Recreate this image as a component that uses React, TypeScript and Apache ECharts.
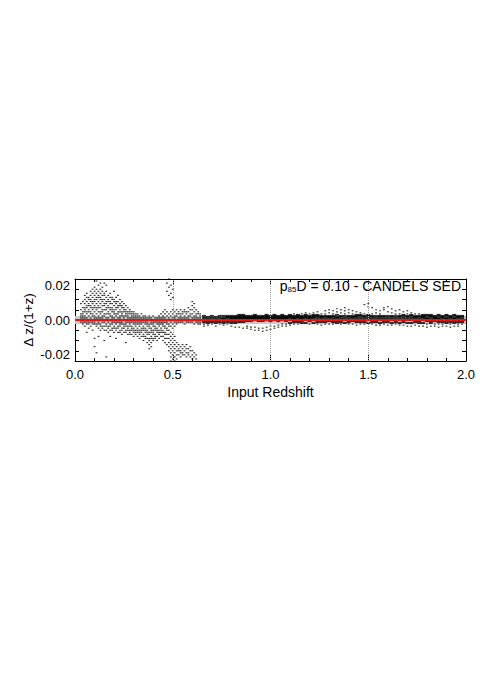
import React, { useEffect, useRef } from "react";
import * as echarts from "echarts";

// Axis settings
const X_MIN = 0;
const X_MAX = 2;
const X_STEP = 0.5;
const Y_MIN = -0.02;
const Y_MAX = 0.02;
const yLabelValues = [-0.02, 0, 0.02];
const yTickValues = [-0.02, -0.015, -0.01, -0.005, 0, 0.005, 0.01, 0.015, 0.02];
const referenceLines = [0.5, 1.0, 1.5];
const bandHalfWidth = 0.0019;
const annotation = "p{s|85}D = 0.10 - CANDELS SED";

// Scatter columns: [input redshift, Δz/(1+z) values in units of 1e-3]
const lowZColumns: [number, number[]][] = [
  [0.03, [5, 3, 2, 1, 0, -1, 8]],
  [0.04, [9, 6, 4, 3, 2, 1, 0, -1, -2]],
  [0.05, [12, 10, 8, 6, 5, 4, 2, 1, 0, -1, -3]],
  [0.06, [13, 11, 9, 7, 6, 4, 3, 1, 0, -1, -2, -6]],
  [0.07, [11, 10, 8, 7, 5, 4, 2, 0, -1, -2, -4]],
  [0.08, [14, 12, 10, 9, 7, 6, 4, 3, 1, 0, -1, -3]],
  [0.09, [15, 13, 11, 9, 8, 6, 5, 3, 2, 0, -1, -2, -5]],
  [0.10, [16, 14, 12, 10, 9, 7, 6, 4, 2, 1, -1, -2, -9, -13]],
  [0.11, [19, 15, 13, 11, 10, 8, 6, 5, 3, 1, 0, -2, -3, -16]],
  [0.12, [17, 14, 12, 11, 9, 7, 6, 4, 2, 1, -1, -2, -4, -8]],
  [0.13, [18, 15, 13, 11, 10, 8, 6, 4, 3, 1, 0, -2, -3, -5]],
  [0.14, [16, 14, 12, 10, 9, 7, 5, 4, 2, 1, -1, -3, -4]],
  [0.15, [18, 13, 12, 10, 8, 7, 5, 3, 2, 0, -1, -3, -5, -10]],
  [0.16, [17, 14, 11, 9, 8, 6, 5, 3, 1, 0, -2, -3, -5, -18]],
  [0.17, [12, 10, 9, 7, 6, 4, 3, 1, 0, -1, -3, -4, -6]],
  [0.18, [13, 11, 9, 8, 6, 5, 3, 2, 0, -2, -3, -5, -8]],
  [0.19, [11, 10, 8, 6, 5, 4, 2, 1, -1, -2, -4, -5]],
  [0.20, [14, 10, 9, 7, 5, 4, 3, 1, 0, -1, -3, -4, -6]],
  [0.21, [11, 9, 8, 6, 5, 3, 2, 0, -1, -2, -4, -5, -9]],
  [0.22, [12, 9, 7, 6, 4, 3, 1, 0, -1, -3, -4, -6]],
  [0.23, [10, 8, 7, 5, 4, 2, 1, -1, -2, -3, -5, -6]],
  [0.24, [9, 7, 6, 4, 3, 2, 0, -1, -2, -4, -5, -7]],
  [0.25, [8, 6, 5, 4, 2, 1, 0, -2, -3, -4, -6]],
  [0.26, [7, 5, 4, 3, 2, 0, -1, -2, -3, -5, -6, -11]],
  [0.27, [6, 4, 3, 2, 1, 0, -1, -3, -4, -5, -7]],
  [0.28, [5, 4, 3, 1, 0, -1, -2, -3, -5, -6, -7]],
  [0.29, [4, 3, 2, 1, 0, -1, -3, -4, -5, -7]],
  [0.30, [4, 3, 2, 1, 0, -1, -2, -4, -5, -6, -8]],
  [0.31, [3, 2, 1, 0, -1, -2, -3, -5, -6, -7]],
  [0.32, [3, 2, 1, 0, -1, -2, -4, -5, -6, -8]],
  [0.33, [2, 1, 0, -1, -2, -3, -5, -6, -7, -9]],
  [0.34, [3, 1, 0, -1, -2, -4, -5, -6, -8]],
  [0.35, [2, 1, 0, -1, -3, -4, -5, -7, -8, -10]],
  [0.36, [2, 1, 0, -1, -2, -4, -5, -6, -8, -9]],
  [0.37, [1, 0, -1, -2, -3, -5, -6, -7, -9, -11]],
  [0.38, [2, 1, 0, -2, -3, -4, -6, -7, -9, -10, -12, -14]],
  [0.39, [1, 0, -1, -2, -4, -5, -6, -8, -9, -11, -13]],
  [0.40, [2, 0, -1, -2, -3, -5, -6, -7, -9, -10]],
  [0.41, [1, 0, -1, -3, -4, -5, -7, -8, -9]],
  [0.42, [1, 0, -1, -2, -4, -5, -6, -8, -10]],
  [0.43, [2, 1, 0, -1, -2, -3, -5, -6, -7, -9]],
  [0.44, [3, 1, 0, -1, -2, -4, -5, -6, -8]],
  [0.45, [4, 2, 1, 0, -1, -2, -3, -5, -6, -8, -10]],
  [0.46, [5, 3, 1, 0, -1, -3, -4, -6, -7, -9, -11]],
  [0.47, [18, 14, 4, 2, 0, -1, -2, -4, -5, -7, -9, -12]],
  [0.48, [20, 16, 12, 3, 1, 0, -2, -3, -5, -7, -9, -11, -13, -15]],
  [0.49, [17, 13, 10, 4, 2, 0, -1, -3, -6, -8, -10, -12, -14, -16, -18, -20]],
  [0.50, [15, 11, 5, 3, 1, 0, -2, -4, -7, -9, -11, -13, -15, -17, -19, -21]],
  [0.51, [4, 2, 1, 0, -1, -3, -8, -10, -12, -14, -16, -18, -20]],
  [0.52, [5, 3, 2, 0, -1, -2, -11, -13, -15, -17, -19]],
  [0.53, [4, 3, 1, 0, -1, -12, -14, -15, -17]],
  [0.54, [5, 3, 2, 1, 0, -1, -13, -15, -16, -18]],
  [0.55, [4, 3, 1, 0, -1, -12, -14, -16, -17]],
  [0.56, [5, 4, 2, 1, 0, -2, -13, -15, -17]],
  [0.57, [4, 3, 1, 0, -1, -12, -14, -16, -18]],
  [0.58, [6, 4, 2, 1, 0, -1, -14, -16, -17]],
  [0.59, [5, 3, 2, 0, -1, -13, -15, -18]],
  [0.60, [9, 7, 5, 3, 1, 0, -1, -15, -17, -19]],
  [0.61, [8, 6, 4, 2, 1, 0, -2, -16, -18]],
  [0.62, [5, 3, 2, 1, 0, -1, -17, -19]],
  [0.63, [4, 3, 1, 0, -1, -2]],
  [0.64, [3, 2, 1, 0, -1, -2]],
];

const highZColumns: [number, number[]][] = [
  [0.66, [2, 1, 0, -1, -2, -3]],
  [0.68, [1.5, 0.5, -0.5, -1.5, -2.5]],
  [0.70, [2, 1, 0, -1, -2]],
  [0.72, [1.5, 0.5, -0.5, -1.5, -3]],
  [0.74, [2, 1, 0, -1, -2]],
  [0.76, [2, 1, 0.5, -0.5, -1.5, -2.5]],
  [0.78, [2, 1.5, 1, 0, -1, -2]],
  [0.80, [2, 1.5, 1, 0.5, -0.5, -1.5, -3]],
  [0.82, [2, 1.5, 1, 0.5, -0.5, -1.5, -3.5]],
  [0.84, [2.5, 2, 1.5, 1, 0.5, -1, -3.5]],
  [0.86, [2.5, 2, 1.5, 1, 0.5, -1, -4]],
  [0.88, [2, 1.5, 1, 0.5, -0.5, -3, -4]],
  [0.90, [2, 1.5, 1, 0.5, -0.5, -3.5, -4.5]],
  [0.92, [2.5, 2, 1.5, 1, 0.5, -3.5, -5]],
  [0.94, [2, 1.5, 1, 0.5, -0.5, -4, -5]],
  [0.96, [2, 1.5, 1, 0.5, -0.5, -4, -5.5]],
  [0.98, [2.5, 2, 1.5, 1, 0.5, -3.5, -5]],
  [1.00, [2, 1.5, 1, 0.5, -0.5, -3, -4.5]],
  [1.02, [2.5, 2, 1.5, 1, 0.5, -3, -4]],
  [1.04, [2, 1.5, 1, 0.5, -0.5, -2.5, -3.5]],
  [1.06, [2.5, 2, 1.5, 1, 0.5, -2, -3]],
  [1.08, [2, 1.5, 1, 0.5, -0.5, -2, -3]],
  [1.10, [2.5, 2, 1.5, 1, 0, -1.5, -2.5]],
  [1.12, [3, 2, 1.5, 1, 0.5, -1, -2]],
  [1.14, [2.5, 2, 1.5, 1, 0, -1, -2]],
  [1.16, [3, 2, 1.5, 1, 0.5, -0.5, -1.5]],
  [1.18, [3.5, 2.5, 2, 1.5, 1, 0, -1.5]],
  [1.20, [3, 2, 1.5, 1, 0.5, -0.5, -2]],
  [1.22, [3.5, 2.5, 2, 1.5, 1, 0, -1.5]],
  [1.24, [4, 2.5, 2, 1.5, 0.5, -1, -2]],
  [1.26, [3, 2, 1.5, 1, 0, -1, -2.5]],
  [1.28, [4.5, 3, 2, 1.5, 0.5, -1, -2]],
  [1.30, [5, 3.5, 2, 1.5, 1, -0.5, -2]],
  [1.32, [4.5, 3, 2, 1.5, 0.5, -1, -2]],
  [1.34, [5.5, 4, 2.5, 1.5, 1, -0.5, -1.5]],
  [1.36, [5, 3.5, 2, 1.5, 0.5, -1, -2]],
  [1.38, [6, 4.5, 3, 2, 1, 0, -1.5]],
  [1.40, [5, 3.5, 2, 1.5, 0.5, -1, -2]],
  [1.42, [4.5, 3, 2, 1.5, 1, -0.5, -2]],
  [1.44, [4, 2.5, 2, 1.5, 0.5, -1, -2.5]],
  [1.46, [3.5, 2.5, 2, 1, 0, -1, -2]],
  [1.48, [7.5, 3, 2, 1.5, 0.5, -1, -2]],
  [1.50, [8, 6.5, 2.5, 2, 1, 0, -1.5]],
  [1.52, [6, 3, 2, 1.5, 0.5, -1, -2]],
  [1.54, [5, 3.5, 2, 1, 0, -1, -2.5]],
  [1.56, [4.5, 3, 2, 1.5, 0.5, -1.5, -2.5]],
  [1.58, [6, 5, 2, 1.5, 0.5, -1, -2]],
  [1.60, [6.5, 4, 2, 1, 0, -1, -2.5]],
  [1.62, [5.5, 3.5, 2, 1.5, 0.5, -1.5, -2.5]],
  [1.64, [4.5, 3, 2, 1, 0, -1, -2]],
  [1.66, [5, 3, 2, 1.5, 0.5, -1.5, -2.5]],
  [1.68, [4, 2.5, 2, 1, 0, -1, -2.5]],
  [1.70, [4.5, 3, 2, 1.5, 0.5, -1.5, -3]],
  [1.72, [3.5, 2.5, 2, 1, 0, -1.5, -3]],
  [1.74, [3, 2, 1.5, 1, 0, -1, -2.5]],
  [1.76, [3, 2, 1.5, 0.5, -0.5, -1.5, -3]],
  [1.78, [2.5, 2, 1.5, 1, 0, -1.5, -3]],
  [1.80, [2.5, 2, 1, 0.5, -0.5, -2, -3.5]],
  [1.82, [2.5, 2, 1.5, 0.5, -0.5, -1.5, -3]],
  [1.84, [2, 1.5, 1, 0.5, -0.5, -2, -3]],
  [1.86, [2.5, 2, 1, 0.5, -1, -2, -3.5]],
  [1.88, [2, 1.5, 1, 0, -1, -2, -3]],
  [1.90, [2.5, 2, 1, 0.5, -0.5, -1.5, -3]],
  [1.92, [2, 1.5, 1, 0, -1, -2, -3.5]],
  [1.94, [2.5, 2, 1, 0.5, -0.5, -1.5, -3]],
  [1.96, [2, 1.5, 1, 0, -1, -2, -3]],
  [1.98, [2, 1.5, 0.5, 0, -1, -2]],
];

// Range (1e-3 units) of the dense core of the high-z band
const CORE_LOW = -1.5;
const CORE_HIGH = 2.5;

const FONT = "'Liberation Sans', Arial, Helvetica, sans-serif";

function toPoints(
  cols: [number, number[]][],
  keep: (y: number) => boolean = () => true
): [number, number][] {
  const out: [number, number][] = [];
  for (const [z, ys] of cols) for (const y of ys) if (keep(y)) out.push([z, y / 1000]);
  return out;
}

export default function App() {
  const ref = useRef<HTMLDivElement>(null);
  useEffect(() => {
    if (!ref.current) return;
    const chart = echarts.init(ref.current, null, { renderer: "svg" });
    const axisLine = { show: true, onZero: false, lineStyle: { color: "#000", width: 1 } };
    const tickStyle = { color: "#000", width: 1 };
    const inCore = (y: number) => y >= CORE_LOW && y <= CORE_HIGH;
    chart.setOption({
      animation: false,
      backgroundColor: "#fff",
      grid: { left: 75, right: 25, top: 279, bottom: 333, containLabel: false },
      xAxis: [
        {
          type: "value",
          min: X_MIN,
          max: X_MAX,
          interval: X_STEP,
          position: "bottom",
          axisLine,
          axisTick: { show: true, inside: true, length: 6, lineStyle: tickStyle },
          minorTick: { show: true, splitNumber: 5, length: 3, lineStyle: tickStyle },
          splitLine: { show: false },
          axisLabel: {
            formatter: (v: number) => v.toFixed(1),
            color: "#000",
            fontSize: 13,
            fontFamily: FONT,
            margin: 7,
          },
          name: "Input Redshift",
          nameLocation: "middle",
          nameGap: 24,
          nameMoveOverlap: false,
          nameTextStyle: { color: "#000", fontSize: 14, fontFamily: FONT },
        },
        {
          type: "value",
          min: X_MIN,
          max: X_MAX,
          interval: X_STEP,
          position: "top",
          axisLine,
          axisTick: { show: true, inside: true, length: 6, lineStyle: tickStyle },
          minorTick: { show: true, splitNumber: 5, length: 3, lineStyle: tickStyle },
          splitLine: { show: false },
          axisLabel: { show: false },
        },
      ],
      yAxis: [
        {
          type: "value",
          min: Y_MIN,
          max: Y_MAX,
          position: "left",
          axisLine,
          axisTick: { show: true, inside: true, length: 4, customValues: yTickValues, lineStyle: tickStyle },
          splitLine: { show: false },
          axisLabel: {
            customValues: yLabelValues,
            formatter: (v: number) => v.toFixed(2),
            color: "#000",
            fontSize: 13,
            fontFamily: FONT,
            margin: 5,
            verticalAlignMaxLabel: "top",
            verticalAlignMinLabel: "bottom",
          },
          name: "Δ z/(1+z)",
          nameLocation: "middle",
          nameGap: 40,
          nameMoveOverlap: false,
          nameRotate: 90,
          nameTextStyle: { color: "#000", fontSize: 13.5, fontFamily: FONT },
        },
        {
          type: "value",
          min: Y_MIN,
          max: Y_MAX,
          position: "right",
          axisLine,
          axisTick: { show: true, inside: true, length: 4, customValues: yTickValues, lineStyle: tickStyle },
          splitLine: { show: false },
          axisLabel: { show: false },
        },
      ],
      series: [
        {
          type: "line",
          data: [],
          z: 1,
          silent: true,
          markArea: {
            silent: true,
            itemStyle: { color: "#c8c8c8" },
            data: [[{ yAxis: -bandHalfWidth }, { yAxis: bandHalfWidth }]],
          },
          markLine: {
            silent: true,
            symbol: "none",
            label: { show: false },
            lineStyle: { color: "#a0a0a0", type: "dotted", width: 1 },
            data: referenceLines.map((x) => ({ xAxis: x })),
          },
        },
        {
          type: "scatter",
          z: 2,
          silent: true,
          symbol: "rect",
          symbolSize: [1.8, 1.2],
          itemStyle: { color: "#000" },
          data: toPoints(lowZColumns),
        },
        {
          type: "scatter",
          z: 2,
          silent: true,
          symbol: "rect",
          symbolSize: [4, 2],
          itemStyle: { color: "#000" },
          data: toPoints(highZColumns, inCore),
        },
        {
          type: "scatter",
          z: 2,
          silent: true,
          symbol: "rect",
          symbolSize: [1.8, 1.2],
          itemStyle: { color: "#000" },
          data: toPoints(highZColumns, (y) => !inCore(y)),
        },
        {
          type: "line",
          data: [],
          z: 3,
          silent: true,
          markLine: {
            silent: true,
            symbol: "none",
            label: { show: false },
            lineStyle: { color: "#ee1111", type: "solid", width: 2 },
            data: [{ yAxis: 0 }],
          },
        },
      ],
      graphic: [
        {
          type: "text",
          x: 461,
          y: 286,
          z: 10,
          style: {
            text: annotation,
            fill: "#000",
            fontSize: 14,
            fontFamily: FONT,
            align: "right",
            verticalAlign: "middle",
            rich: {
              s: { fontSize: 8, fontFamily: FONT, fill: "#000", padding: [6, 0, 0, 0] },
            },
          },
        },
      ],
    });
    return () => chart.dispose();
  }, []);
  return (
    <div
      ref={ref}
      style={{ position: "fixed", left: 0, top: 0, width: 491, height: 694, background: "#fff" }}
    />
  );
}
